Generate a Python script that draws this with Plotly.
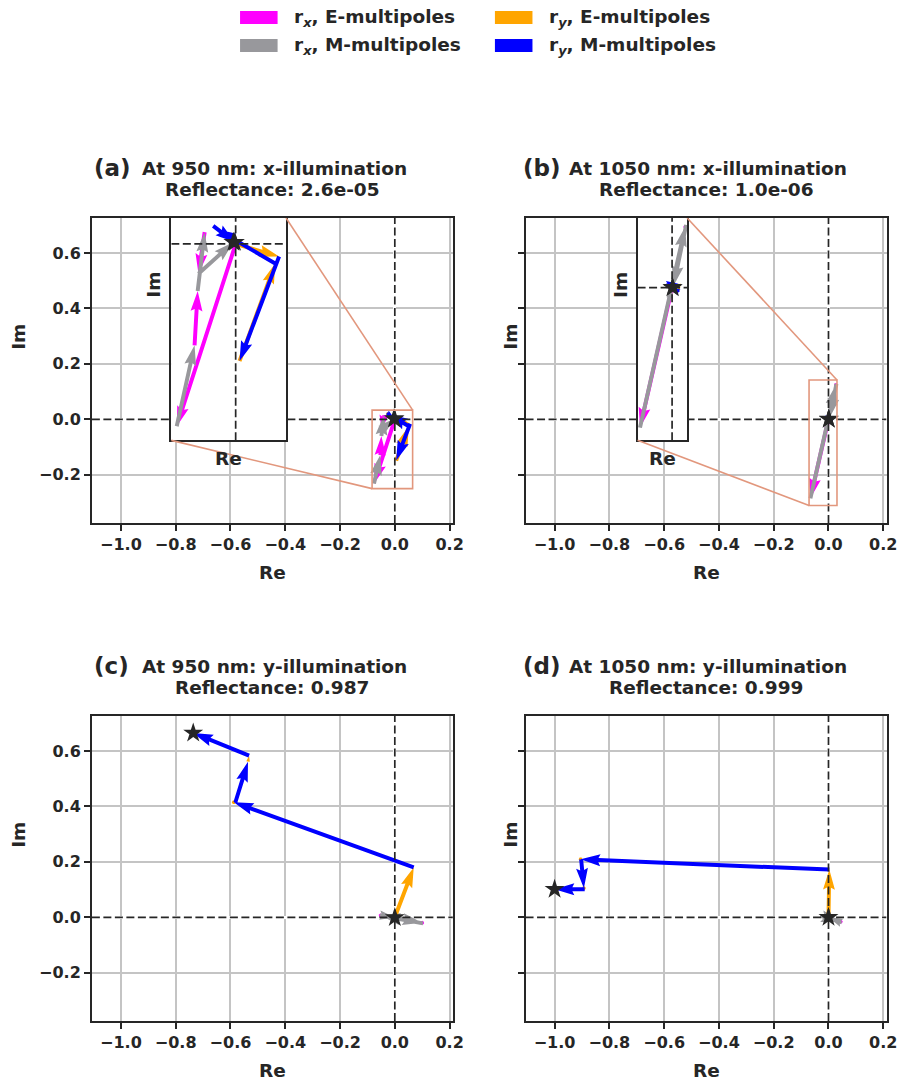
import numpy as np
import plotly.graph_objects as go

W, H = 907, 1080
FONT = "DejaVu Sans"
INK = "#262626"
GRID = "#c4c4c4"
SALMON = "#e2977d"

COL_RX_E = "#ff00ff"
COL_RX_M = "#98989c"
COL_RY_E = "#ffa500"
COL_RY_M = "#0000ff"

# Multipole contributions to the reflection coefficients (complex amplitudes),
# ordered dipole, quadrupole, octupole.
# (a) 950 nm, x-illumination
a_rx_E = [-0.076 - 0.232j, 0.004 + 0.069j, -0.008 - 0.053j]
a_rx_M = [0.023 + 0.103j, 0.009 + 0.075j, 0.045 + 0.040j]
a_ry_E = [0.056 - 0.016j, 0.046 + 0.124j, -0.004 + 0.004j]
a_ry_M = [-0.051 - 0.133j, -0.076 + 0.044j, 0.028 - 0.021j]
# (b) 1050 nm, x-illumination
b_rx_E = [-0.066 - 0.285j, 0.002 + 0.004j, -0.008 - 0.025j]
b_rx_M = [0.093 + 0.409j, -0.026 - 0.124j, 0.006 + 0.022j]
b_ry_E = [-0.012 + 0.006j, 0.002 - 0.016j, 0.000 + 0.001j]
b_ry_M = [0.025 + 0.002j, -0.014 + 0.008j, 0.000 - 0.001j]
# (c) 950 nm, y-illumination
c_rx_E = [-0.004 + 0.000j, 0.003 - 0.002j, -0.003 + 0.001j]
c_rx_M = [0.104 - 0.020j, -0.155 + 0.029j, 0.055 - 0.009j]
c_ry_E = [0.069 + 0.180j, 0.006 + 0.000j, 0.004 + 0.022j]
c_ry_M = [-0.657 + 0.235j, 0.046 + 0.146j, -0.204 + 0.082j]
# (d) 1050 nm, y-illumination
d_rx_E = [-0.030 + 0.005j, 0.003 - 0.004j, 0.000 + 0.000j]
d_rx_M = [0.075 - 0.021j, -0.048 + 0.020j, 0.000 + 0.000j]
d_ry_E = [0.003 + 0.172j, 0.002 + 0.000j, 0.003 - 0.004j]
d_ry_M = [-0.908 + 0.037j, 0.010 - 0.104j, -0.110 + 0.000j]

LETTERS = ["(a)", "(b)", "(c)", "(d)"]
HEADINGS = ["At 950 nm: x-illumination", "At 1050 nm: x-illumination",
            "At 950 nm: y-illumination", "At 1050 nm: y-illumination"]
REFLECTANCE = ["2.6e-05", "1.0e-06", "0.987", "0.999"]

X_TICKS = [-1.0, -0.8, -0.6, -0.4, -0.2, 0.0, 0.2]
Y_TICKS = [-0.2, 0.0, 0.2, 0.4, 0.6]
X_RANGE = [-1.106, 0.212]
Y_RANGE = [-0.374, 0.726]

# axes frames in pixels
FRAME_LEFT = [93, 532, 93, 532]
FRAME_TOP = [218, 218, 716, 716]
FRAME_H = 305
LETTER_X = [93, 527, 93, 527]
YLABEL_X = [18, 516, 18, 516]

# zoom insets for panels (a) and (b): box position in parent data coords, and view
INSET_BOX_X = {0: [-0.816, -0.397], 1: [-0.697, -0.516]}
INSET_BOX_Y = {0: [-0.076, Y_RANGE[1]], 1: [-0.076, Y_RANGE[1]]}
INSET_VIEW_X = {0: [-0.083, 0.065], 1: [-0.071, 0.031]}
INSET_VIEW_Y = {0: [-0.250, 0.033], 1: [-0.311, 0.142]}

SHAFT_PX = 4.0
STAR_SIZE = 15

PANEL_DATA = [
    (a_rx_E, a_rx_M, a_ry_E, a_ry_M),
    (b_rx_E, b_rx_M, b_ry_E, b_ry_M),
    (c_rx_E, c_rx_M, c_ry_E, c_ry_M),
    (d_rx_E, d_rx_M, d_ry_E, d_ry_M),
]

# pixels per data unit (equal aspect everywhere)
PPU = FRAME_H / (Y_RANGE[1] - Y_RANGE[0])
FRAME_W = (X_RANGE[1] - X_RANGE[0]) * PPU


def fx(p):
    return p / W


def fy(p):
    return 1 - p / H


def chain(E, M):
    """Head-to-tail sequence E1, M1, E2, M2, ... and the running total."""
    e_steps, m_steps = [], []
    z = 0j
    for e, m in zip(E, M):
        e_steps.append((z, e))
        z += e
        m_steps.append((z, m))
        z += m
    return e_steps, m_steps, z


def quiver_poly(z0, dz, w):
    """Filled arrow outline in the style of matplotlib quiver (widths in shaft units)."""
    hw, hl, hal = 3.0, 5.0, 4.5
    L = abs(dz) / w
    if L < 1.0:
        th = np.arange(0, 8) * np.pi / 3.0
        shape = 0.5 * (np.cos(th) + 1j * np.sin(th))
    else:
        ys = np.array([0.5, 0.5, hw / 2, 0, -hw / 2, -0.5, -0.5, 0.5])
        if L < hl:
            xs = np.array([0, hl - hal, 0, hl, 0, hl - hal, 0, 0]) * (L / hl)
            ys = ys * (L / hl)
        else:
            xs = np.array([0, L - hal, L - hl, L, L - hl, L - hal, 0, 0])
        shape = xs + 1j * ys
    pts = z0 + w * shape * np.exp(1j * np.angle(dz))
    return list(pts.real), list(pts.imag)


def arrow_trace(steps, w, color, xa, ya):
    xs, ys = [], []
    for z0, dz in steps:
        px, py = quiver_poly(z0, dz, w)
        xs += px + [None]
        ys += py + [None]
    return go.Scatter(x=xs, y=ys, mode="lines", fill="toself", fillcolor=color,
                      line=dict(width=0, color=color), hoverinfo="skip",
                      showlegend=False, xaxis=xa, yaxis=ya)


fig = go.Figure()
layout = {}
shapes = []
annotations = []


def main_px(i, x, y):
    return (FRAME_LEFT[i] + (x - X_RANGE[0]) * PPU,
            FRAME_TOP[i] + (Y_RANGE[1] - y) * PPU)


def add_panel_content(i, xa, ya, xr, yr, w):
    rx_E, rx_M, ry_E, ry_M = PANEL_DATA[i]
    rxE, rxM, rx_sum = chain(rx_E, rx_M)
    ryE, ryM, ry_sum = chain(ry_E, ry_M)
    fig.add_trace(arrow_trace(rxE, w, COL_RX_E, xa, ya))
    fig.add_trace(arrow_trace(rxM, w, COL_RX_M, xa, ya))
    fig.add_trace(arrow_trace(ryE, w, COL_RY_E, xa, ya))
    fig.add_trace(arrow_trace(ryM, w, COL_RY_M, xa, ya))
    dash = dict(color=INK, width=1.7, dash="8px,3.5px")
    fig.add_trace(go.Scatter(x=[xr[0], xr[1]], y=[0, 0], mode="lines", line=dash,
                             hoverinfo="skip", showlegend=False, xaxis=xa, yaxis=ya))
    fig.add_trace(go.Scatter(x=[0, 0], y=[yr[0], yr[1]], mode="lines", line=dash,
                             hoverinfo="skip", showlegend=False, xaxis=xa, yaxis=ya))
    fig.add_trace(go.Scatter(x=[rx_sum.real, ry_sum.real], y=[rx_sum.imag, ry_sum.imag],
                             mode="markers",
                             marker=dict(symbol="star", size=STAR_SIZE, color=INK,
                                         line=dict(width=0)),
                             hoverinfo="skip", showlegend=False, xaxis=xa, yaxis=ya))


# main panels
for i in range(4):
    n = i + 1
    xa, ya = ("x" if n == 1 else f"x{n}"), ("y" if n == 1 else f"y{n}")
    left, top = FRAME_LEFT[i], FRAME_TOP[i]
    axis_common = dict(showline=True, mirror=True, linecolor=INK, linewidth=1.8,
                       ticks="outside", ticklen=6, tickwidth=1.6, tickcolor=INK,
                       showgrid=True, gridcolor=GRID, gridwidth=1.5,
                       zeroline=True, zerolinecolor="white", zerolinewidth=2.5,
                       tickfont=dict(family=FONT, size=16, color=INK, weight="bold"),
                       tickformat=".1f", fixedrange=True)
    layout["xaxis" if n == 1 else f"xaxis{n}"] = dict(
        axis_common, domain=[fx(left), fx(left + FRAME_W)], range=X_RANGE,
        tickvals=X_TICKS, anchor=ya)
    layout["yaxis" if n == 1 else f"yaxis{n}"] = dict(
        axis_common, domain=[fy(top + FRAME_H), fy(top)], range=Y_RANGE,
        tickvals=Y_TICKS, anchor=xa, showticklabels=(i % 2 == 0))
    add_panel_content(i, xa, ya, X_RANGE, Y_RANGE, SHAFT_PX / PPU)

    cx = left + FRAME_W / 2
    annotations += [
        dict(text=LETTERS[i], x=fx(LETTER_X[i]), y=fy(top - 50), xanchor="left",
             yanchor="middle", font=dict(size=23, weight="bold")),
        dict(text=HEADINGS[i], x=fx(cx + 2), y=fy(top - 50), xanchor="center",
             yanchor="middle", font=dict(size=18.5, weight="bold")),
        dict(text="Reflectance: " + REFLECTANCE[i], x=fx(cx), y=fy(top - 29),
             xanchor="center", yanchor="middle", font=dict(size=18.5, weight="bold")),
        dict(text="Re", x=fx(cx), y=fy(top + 354), xanchor="center", yanchor="middle",
             font=dict(size=18.5, weight="bold")),
        dict(text="Im", x=fx(YLABEL_X[i]), y=fy(top + 119), xanchor="center",
             yanchor="middle", textangle=-90, font=dict(size=18.5, weight="bold")),
    ]

# zoom insets
for k, i in enumerate([0, 1]):
    n = 5 + k
    xa, ya = f"x{n}", f"y{n}"
    bx, by = INSET_BOX_X[i], INSET_BOX_Y[i]
    vx, vy = INSET_VIEW_X[i], INSET_VIEW_Y[i]
    l, b = main_px(i, bx[0], by[0])
    r, t = main_px(i, bx[1], by[1])
    inset_common = dict(showline=True, mirror=True, linecolor=INK, linewidth=1.8,
                        showgrid=False, zeroline=False, showticklabels=False,
                        ticks="", fixedrange=True)
    layout[f"xaxis{n}"] = dict(inset_common, domain=[fx(l), fx(r)], range=vx, anchor=ya)
    layout[f"yaxis{n}"] = dict(inset_common, domain=[fy(b), fy(t)], range=vy, anchor=xa)
    # opaque inset background, drawn under the inset's own content
    shapes.append(dict(type="rect", xref=xa, yref=ya, x0=vx[0], x1=vx[1], y0=vy[0],
                       y1=vy[1], fillcolor="white", line=dict(width=0), layer="below"))
    ppu_in = (r - l) / (vx[1] - vx[0])
    add_panel_content(i, xa, ya, vx, vy, SHAFT_PX / ppu_in)

    pxa = "x" if i == 0 else "x2"
    pya = "y" if i == 0 else "y2"
    # zoomed region and connectors in the parent axes
    shapes.append(dict(type="rect", xref=pxa, yref=pya, x0=vx[0], x1=vx[1], y0=vy[0],
                       y1=vy[1], line=dict(color=SALMON, width=1.6), layer="above"))
    shapes.append(dict(type="line", xref=pxa, yref=pya, x0=bx[1], y0=by[1], x1=vx[1],
                       y1=vy[1], line=dict(color=SALMON, width=1.6), layer="above"))
    shapes.append(dict(type="line", xref=pxa, yref=pya, x0=bx[0], y0=by[0], x1=vx[0],
                       y1=vy[0], line=dict(color=SALMON, width=1.6), layer="above"))
    annotations += [
        dict(text="Re", x=fx((l + r) / 2), y=fy(b + 18), xanchor="center",
             yanchor="middle", font=dict(size=18.5, weight="bold")),
        dict(text="Im", x=fx(l - 18), y=fy((t + b) / 2 - 44), xanchor="center",
             yanchor="middle", textangle=-90, font=dict(size=18.5, weight="bold")),
    ]

# legend
LEGEND_LABELS = ["r<sub><i>x</i></sub>, E-multipoles", "r<sub><i>x</i></sub>, M-multipoles",
                 "r<sub><i>y</i></sub>, E-multipoles", "r<sub><i>y</i></sub>, M-multipoles"]
LEGEND_COLORS = [COL_RX_E, COL_RX_M, COL_RY_E, COL_RY_M]
LEG_COL_X = [243, 501]
LEG_ROW_Y = [17.5, 45.5]
for j, (lab, col) in enumerate(zip(LEGEND_LABELS, LEGEND_COLORS)):
    cx, ry = LEG_COL_X[j // 2], LEG_ROW_Y[j % 2]
    shapes.append(dict(type="rect", xref="paper", yref="paper", x0=fx(cx), x1=fx(cx + 38),
                       y0=fy(ry + 6.5), y1=fy(ry - 6.5), fillcolor=col,
                       line=dict(width=0), layer="above"))
    annotations.append(dict(text=lab, x=fx(cx + 53), y=fy(ry), xanchor="left",
                            yanchor="middle", font=dict(size=18.5, weight="bold")))

for a in annotations:
    a.setdefault("xref", "paper")
    a.setdefault("yref", "paper")
    a["showarrow"] = False
    a["font"] = dict(family=FONT, color=INK, **a["font"])

fig.update_layout(
    width=W, height=H, autosize=False, margin=dict(l=0, r=0, t=0, b=0),
    paper_bgcolor="white", plot_bgcolor="white",
    showlegend=False, shapes=shapes, annotations=annotations,
    font=dict(family=FONT, color=INK),
)
fig.update_layout(**layout)

fig.write_html("out.html", config={"responsive": False, "displayModeBar": False},
               post_script="document.body.style.margin='0';"
                           "document.documentElement.style.overflow='hidden';")
